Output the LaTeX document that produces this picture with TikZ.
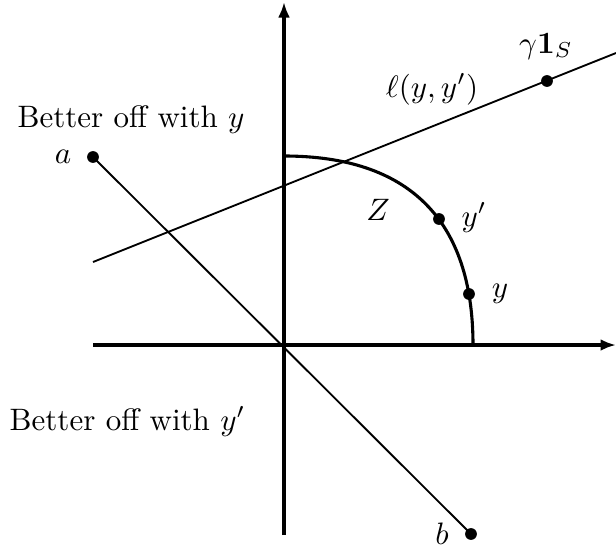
\documentclass[tikz,border=0pt]{standalone}
\usetikzlibrary{arrows.meta}
\begin{document}
\begin{tikzpicture}[x=0.3226pt,y=-0.3226pt,
  axis/.style={line width=1pt,-{Latex[length=5pt,width=3.8pt]}},
  thinline/.style={line width=0.6pt},
  curve/.style={line width=1pt},
  dot/.style={circle,fill=black,inner sep=0pt,minimum size=3.8pt},
  lbl/.style={inner sep=0pt,anchor=base}]
\useasboundingbox (0,0) rectangle (616,551);
\coordinate (O) at (284,345);
\coordinate (xl) at (93,345);
\coordinate (xr) at (616,345);
\coordinate (yb) at (284,535);
\coordinate (yt) at (284,2);
\draw[axis] (xl) -- (xr);
\draw[axis] (yb) -- (yt);
\coordinate (zt) at (284,156);
\coordinate (zr) at (473,345);
\draw[curve] (zt) .. controls (409,156) and (473,220) .. (zr);
\coordinate (l1) at (93,262);
\coordinate (l2) at (616,53);
\draw[thinline] (l1) -- (l2);
\node[dot] (g) at (547,81) {};
\node[dot] (a) at (93,157) {};
\node[dot] (b) at (471,534) {};
\draw[thinline] (a.center) -- (b.center);
\node[dot] (yp) at (439,219) {};
\node[dot] (yy) at (469,294) {};
\node[lbl] (t1) at (131,127) {Better off with $y$};
\node[lbl] (t2) at (127.5,430) {Better off with $y'$};
\node[lbl] (la) at (63,163) {$a$};
\node[lbl] (lb) at (442,544) {$b$};
\node[lbl] (lz) at (378,220) {$Z$};
\node[lbl] (lyp) at (474,226) {$y'$};
\node[lbl] (ly) at (500,297) {$y$};
\node[lbl] (ll) at (432,97) {$\ell(y,y')$};
\node[lbl] (lg) at (546,53) {$\gamma\mathbf{1}_S$};
\end{tikzpicture}
\end{document}
